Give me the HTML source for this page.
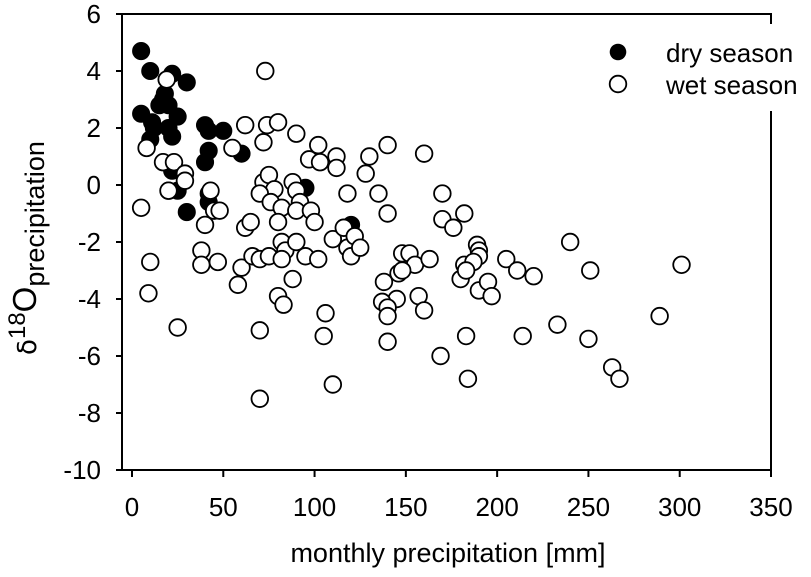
<!DOCTYPE html>
<html><head><meta charset="utf-8"><style>
html,body{margin:0;padding:0;background:#fff;}
body{position:relative;width:811px;height:577px;}
svg{display:block;font-family:"Liberation Sans",Arial,sans-serif;}
</style></head><body>
<svg id="chart" width="811" height="577" viewBox="0 0 811 577" xmlns="http://www.w3.org/2000/svg"></svg>
<script>
const xTicks=[0,50,100,150,200,250,300,350];
const yTicks=[6,4,2,0,-2,-4,-6,-8,-10];
const dryX=[5,10,22,30,5,15,17,18,20,12,10,20,22,25,40,42,50,60,42,40,22,25,30,42,42,95,120,20,11];
const dryY=[4.7,4.0,3.9,3.6,2.5,2.8,3.0,3.2,2.8,2.0,1.6,2.0,1.7,2.4,2.1,1.9,1.9,1.1,1.2,0.8,0.5,-0.2,-0.95,-0.3,-0.6,-0.1,-1.4,-0.2,2.2];
const wetX=[5,8,10,9,25,19,17,23,29,29,20,43,45,48,40,38,38,47,55,62,74,80,72,90,97,103,102,112,112,118,72,75,78,70,76,82,80,88,90,92,90,98,100,62,65,58,60,66,70,75,82,84,82,90,95,102,88,70,80,83,106,105,70,110,110,116,118,120,122,125,130,128,140,135,140,146,148,152,155,145,157,160,163,138,137,140,140,140,160,170,170,176,182,182,189,190,190,187,180,183,190,195,197,205,211,220,240,251,301,214,183,233,250,289,169,184,263,267,73,148];
const wetY=[-0.8,1.3,-2.7,-3.8,-5.0,3.7,0.8,0.8,0.4,0.15,-0.2,-0.2,-0.9,-0.9,-1.4,-2.3,-2.8,-2.7,1.3,2.1,2.1,2.2,1.5,1.8,0.9,0.8,1.4,1.0,0.6,-0.3,0.1,0.35,-0.15,-0.3,-0.6,-0.8,-1.3,0.1,-0.2,-0.6,-0.9,-0.9,-1.3,-1.5,-1.3,-3.5,-2.9,-2.5,-2.6,-2.5,-2.0,-2.3,-2.6,-2.0,-2.5,-2.6,-3.3,-5.1,-3.9,-4.2,-4.5,-5.3,-7.5,-7.0,-1.9,-1.5,-2.2,-2.5,-1.8,-2.2,1.0,0.4,1.4,-0.3,-1.0,-3.1,-2.4,-2.4,-2.8,-4.0,-3.9,-4.4,-2.6,-3.4,-4.1,-4.3,-4.6,-5.5,1.1,-0.3,-1.2,-1.5,-1.0,-2.8,-2.1,-2.3,-2.5,-2.7,-3.3,-3.0,-3.7,-3.4,-3.9,-2.6,-3.0,-3.2,-2.0,-3.0,-2.8,-5.3,-5.3,-4.9,-5.4,-4.6,-6.0,-6.8,-6.4,-6.8,4.0,-3.0];

const L=122,R=771,T=14,B=470;
const X0=132,XS=(771-132)/350;
const sx=v=>X0+v*XS;
const sy=v=>T+(6-v)*(B-T)/16;
const NS="http://www.w3.org/2000/svg";
const svg=document.getElementById('chart');
function mk(tag,attrs,parent){const e=document.createElementNS(NS,tag);for(const k in attrs)e.setAttribute(k,attrs[k]);(parent||svg).appendChild(e);return e;}

const frame=mk('path',{d:`M${R},24 L${R},${T} L${L},${T} L${L},${B} L${R},${B} L${R},111`,fill:'none',stroke:'#000','stroke-width':2});



xTicks.forEach(t=>{
  const ln=mk('line',{x1:sx(t),x2:sx(t),y1:B,y2:B+7,stroke:'#000','stroke-width':2});
  
  
  const tx=mk('text',{x:sx(t),y:B+46,'text-anchor':'middle','font-size':26,fill:'#000'});
  tx.textContent=t;
  
  
});
yTicks.forEach(t=>{
  const ln=mk('line',{x1:L-6,x2:L,y1:sy(t),y2:sy(t),stroke:'#000','stroke-width':2});
  
  
  const tx=mk('text',{x:L-21,y:sy(t)+9,'text-anchor':'end','font-size':26,fill:'#000'});
  tx.textContent=t;
  
  
});

dryX.forEach((v,i)=>{
  const c=mk('circle',{cx:sx(v),cy:sy(dryY[i]),r:8.3,fill:'#000',stroke:'#000','stroke-width':1.5});
  
  
});
wetX.forEach((v,i)=>{
  const c=mk('circle',{cx:sx(v),cy:sy(wetY[i]),r:8.3,fill:'#fff',stroke:'#000','stroke-width':1.8});
  
  
});
</script>
<svg style="position:absolute;left:0;top:0" width="811" height="577">
  <g font-family="Liberation Sans, Arial, sans-serif" font-size="26">
    <circle cx="618" cy="52" r="8.3" fill="#000"/>
    <text x="666" y="62">dry season</text>
    <circle cx="618" cy="84" r="8.3" fill="#fff" stroke="#000" stroke-width="1.8"/>
    <text x="666" y="94">wet season</text>
  </g>
  <text x="448" y="562" text-anchor="middle" font-family="Liberation Sans, Arial, sans-serif" font-size="27">monthly precipitation [mm]</text>
  <text transform="translate(36,248) rotate(-90)" text-anchor="middle" font-family="Liberation Sans, Arial, sans-serif" font-size="27"><tspan font-family="DejaVu Sans, sans-serif" font-size="26">δ</tspan><tspan dy="-11" font-size="24">18</tspan><tspan dy="11" font-size="33">O</tspan><tspan dy="8" font-size="27">precipitation</tspan></text>
</svg>
</body></html>
